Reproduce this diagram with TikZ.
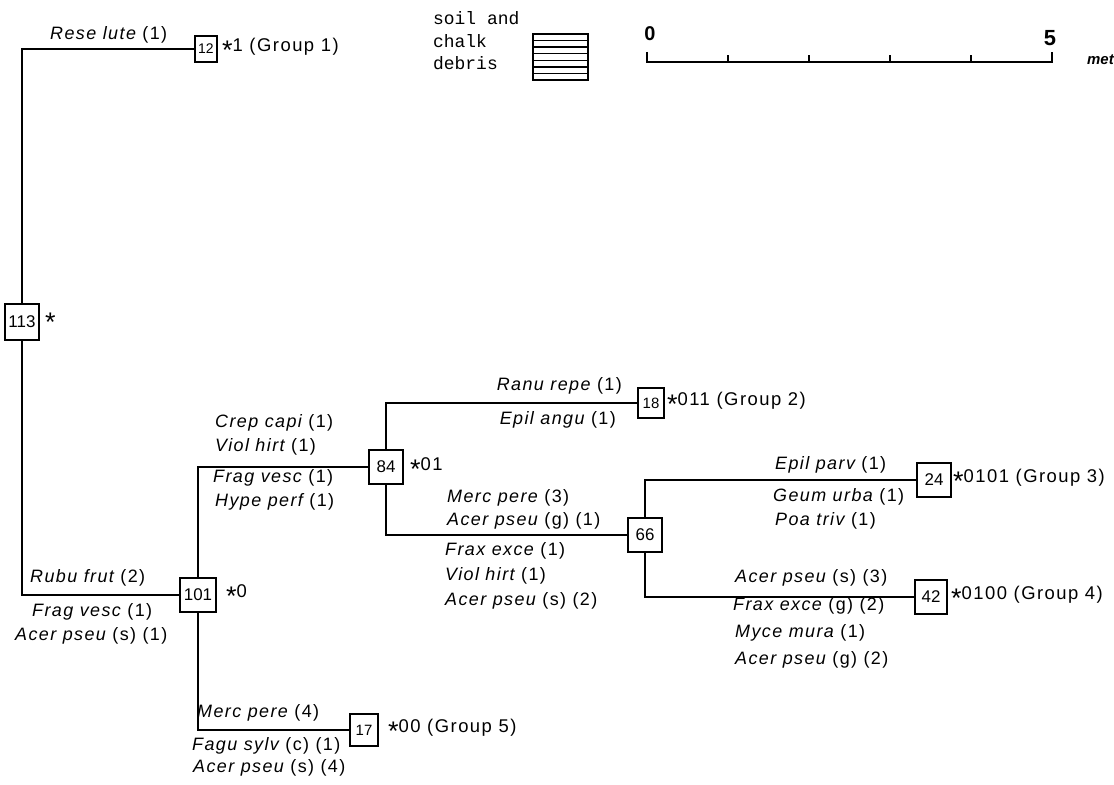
\documentclass[tikz,border=0pt]{standalone}
\usepackage{fontspec}
\setmainfont{Liberation Sans}
\newfontfamily\labfont[LetterSpace=8]{Liberation Sans}
\newfontfamily\legfont{Liberation Mono}
\newcommand{\spc}[2]{{\itshape #1} #2}
\newcommand{\astx}{\raisebox{-0.42em}{\fontsize{27}{20}\selectfont *}}
\tikzset{
  box/.style={draw, line width=2bp, inner sep=1bp, font=\fontsize{17}{19}\selectfont},
  conn/.style={line width=2.4bp},
  lab/.style={inner sep=0pt, font=\labfont\fontsize{18}{20}\selectfont},
  grp/.style={inner sep=0pt, font=\labfont\fontsize{18.5}{20}\selectfont},
  leg/.style={inner sep=0pt, font=\legfont\fontsize{18}{20}\selectfont}
}
\begin{document}
\begin{tikzpicture}[x=1bp,y=-1bp]
\useasboundingbox (0,0) rectangle (1114,785);
% boxes
\node[box, minimum width=23, minimum height=26, font=\fontsize{14}{16}\selectfont] (n12) at (206,49) {12};
\node[box, minimum width=35, minimum height=37] (n113) at (22,322) {113};
\node[box, minimum width=37, minimum height=35] (n101) at (198,595) {101};
\node[box, minimum width=34, minimum height=34] (n84) at (386,467) {84};
\node[box, minimum width=27, minimum height=30, font=\fontsize{15}{17}\selectfont] (n18) at (651,403) {18};
\node[box, minimum width=34, minimum height=35] (n66) at (645,535) {66};
\node[box, minimum width=34, minimum height=35] (n24) at (934,480) {24};
\node[box, minimum width=33, minimum height=35] (n42) at (931,597) {42};
\node[box, minimum width=28, minimum height=33, font=\fontsize{15}{17}\selectfont] (n17) at (364,730) {17};
% connectors
\draw[conn] (n113.north) |- (n12.west);
\draw[conn] (n113.south) |- (n101.west);
\draw[conn] (n101.north) |- (n84.west);
\draw[conn] (n101.south) |- (n17.west);
\draw[conn] (n84.north) |- (n18.west);
\draw[conn] (n84.south) |- (n66.west);
\draw[conn] (n66.north) |- (n24.west);
\draw[conn] (n66.south) |- (n42.west);
% group labels
\node[grp, anchor=west] (g12) at (222,49) {\astx1 (Group 1)};
\node[grp, anchor=west] (g113) at (45,322) {\astx};
\node[grp, anchor=west] (g101) at (226,595) {\astx0};
\node[grp, anchor=west] (g84) at (410,468) {\astx01};
\node[grp, anchor=west] (g18) at (667,403) {\astx011 (Group 2)};
\node[grp, anchor=west] (g24) at (953,480) {\astx0101 (Group 3)};
\node[grp, anchor=west] (g42) at (951,597) {\astx0100 (Group 4)};
\node[grp, anchor=west] (g17) at (388,730) {\astx00 (Group 5)};
% species labels
\node[lab, anchor=west] (s1) at (50,35) {\spc{Rese lute}{(1)}};
\node[lab, anchor=west] (s2) at (30,578) {\spc{Rubu frut}{(2)}};
\node[lab, anchor=west] (s3) at (32,612) {\spc{Frag vesc}{(1)}};
\node[lab, anchor=west] (s4) at (15,636) {\spc{Acer pseu}{(s) (1)}};
\node[lab, anchor=west] (s5) at (215,423) {\spc{Crep capi}{(1)}};
\node[lab, anchor=west] (s6) at (215,447) {\spc{Viol hirt}{(1)}};
\node[lab, anchor=west] (s7) at (213,478) {\spc{Frag vesc}{(1)}};
\node[lab, anchor=west] (s8) at (215,502) {\spc{Hype perf}{(1)}};
\node[lab, anchor=east] (s9) at (622,386) {\spc{Ranu repe}{(1)}};
\node[lab, anchor=east] (s10) at (616,420) {\spc{Epil angu}{(1)}};
\node[lab, anchor=west] (s11) at (447,498) {\spc{Merc pere}{(3)}};
\node[lab, anchor=west] (s12) at (447,521) {\spc{Acer pseu}{(g) (1)}};
\node[lab, anchor=west] (s13) at (445,551) {\spc{Frax exce}{(1)}};
\node[lab, anchor=west] (s14) at (445,576) {\spc{Viol hirt}{(1)}};
\node[lab, anchor=west] (s15) at (445,601) {\spc{Acer pseu}{(s) (2)}};
\node[lab, anchor=west] (s16) at (775,465) {\spc{Epil parv}{(1)}};
\node[lab, anchor=west] (s17) at (773,497) {\spc{Geum urba}{(1)}};
\node[lab, anchor=west] (s18) at (775,521) {\spc{Poa triv}{(1)}};
\node[lab, anchor=west] (s19) at (735,578) {\spc{Acer pseu}{(s) (3)}};
\node[lab, anchor=west] (s20) at (733,606) {\spc{Frax exce}{(g) (2)}};
\node[lab, anchor=west] (s21) at (735,633) {\spc{Myce mura}{(1)}};
\node[lab, anchor=west] (s22) at (735,660) {\spc{Acer pseu}{(g) (2)}};
\node[lab, anchor=west] (s23) at (197,713) {\spc{Merc pere}{(4)}};
\node[lab, anchor=west] (s24) at (192,746) {\spc{Fagu sylv}{(c) (1)}};
\node[lab, anchor=west] (s25) at (193,768) {\spc{Acer pseu}{(s) (4)}};
% legend
\node[leg, anchor=west] (l1) at (433,18) {soil and};
\node[leg, anchor=west] (l2) at (433,41) {chalk};
\node[leg, anchor=west] (l3) at (433,63) {debris};
\draw[line width=1.8bp] (533,34) rectangle (588,80);
\foreach \yy in {40.6,47.1,53.7,60.3,66.9,73.4} \draw[line width=1.4bp] (533,\yy) -- (588,\yy);
% scale bar
\draw[line width=2bp] (647,52) -- (647,62) -- (1052,62) -- (1052,52);
\foreach \xx in {728,809,890,971} \draw[line width=1.6bp] (\xx,62) -- (\xx,55);
\node[inner sep=0pt, font=\fontsize{20}{22}\selectfont\bfseries] (sc0) at (650,34) {0};
\node[inner sep=0pt, font=\fontsize{22}{24}\selectfont\bfseries] (sc5) at (1050,38) {5};
\node[inner sep=0pt, anchor=west, font=\fontsize{15}{18}\selectfont\bfseries\itshape] (scm) at (1087,60) {met};
\end{tikzpicture}
\end{document}
